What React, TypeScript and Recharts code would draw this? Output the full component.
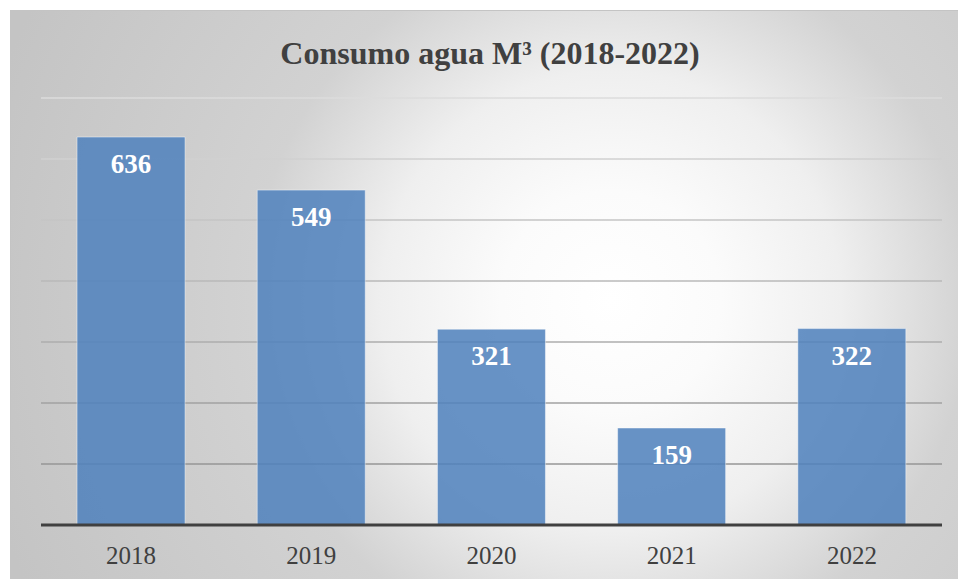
import React from 'react';
import { BarChart, Bar, XAxis, YAxis, CartesianGrid, LabelList } from 'recharts';

const years = ['2018', '2019', '2020', '2021', '2022'];
const consumo = [636, 549, 321, 159, 322];
const yTicks = [0, 100, 200, 300, 400, 500, 600, 700];

const data = years.map((year, i) => ({ year, consumo: consumo[i] }));

const FONT = '"Liberation Serif", "DejaVu Serif", serif';

const YearTick = (props: any) => {
  const { x, y, payload } = props;
  return (
    <text x={x} y={y + 30} textAnchor="middle" dominantBaseline="central" fontFamily={FONT} fontSize={25} fill="#404040">
      {payload.value}
    </text>
  );
};

const ValueLabel = (props: any) => {
  const { x, y, width, value } = props;
  return (
    <text x={x + width / 2} y={y + 27} textAnchor="middle" dominantBaseline="central" fontFamily={FONT} fontSize={27} fontWeight="bold" fill="#ffffff">
      {value}
    </text>
  );
};

const App: React.FC = () => {
  return (
    <div
      style={{
        position: 'absolute',
        left: 10,
        top: 10,
        width: 948,
        height: 569,
        borderTop: '1px solid #c4c4c4',
        borderLeft: '1px solid #c4c4c4',
        boxSizing: 'border-box',
        overflow: 'hidden',
        background:
          'radial-gradient(circle at 600px 290px, #ffffff 0px, #fbfbfb 110px, #efefef 230px, #d2d2d2 360px, #c4c4c4 650px)',
      }}
    >
      <div
        style={{
          position: 'absolute',
          left: 0,
          width: 958,
          top: 23,
          textAlign: 'center',
          fontFamily: FONT,
          fontWeight: 'bold',
          fontSize: 32,
          color: '#404040',
          lineHeight: '38px',
        }}
      >
        Consumo agua M³ (2018-2022)
      </div>
      <BarChart
        width={948}
        height={569}
        data={data}
        margin={{ top: 88, right: 16, bottom: 0, left: 31 }}
        barCategoryGap="20%"
        style={{ position: 'absolute', left: -1, top: -1 }}
      >
        <defs>
          <linearGradient id="gridStroke" gradientUnits="userSpaceOnUse" x1="0" y1="88" x2="0" y2="515">
            <stop offset="0%" stopColor="#dcdcdc" />
            <stop offset="100%" stopColor="#8a8a8a" />
          </linearGradient>
        </defs>
        <CartesianGrid vertical={false} stroke="url(#gridStroke)" strokeWidth={1.5} />
        <YAxis hide domain={[0, 700]} ticks={yTicks} />
        <XAxis
          dataKey="year"
          height={54}
          tickLine={false}
          tickSize={0}
          tickMargin={0}
          axisLine={{ stroke: '#404040', strokeWidth: 3 }}
          tick={<YearTick />}
        />
        <Bar
          dataKey="consumo"
          fill="#4f81bd"
          fillOpacity={0.86}
          stroke="#ffffff"
          strokeOpacity={0.45}
          strokeWidth={1}
          isAnimationActive={false}
        >
          <LabelList dataKey="consumo" content={<ValueLabel />} />
        </Bar>
      </BarChart>
    </div>
  );
};

export default App;
